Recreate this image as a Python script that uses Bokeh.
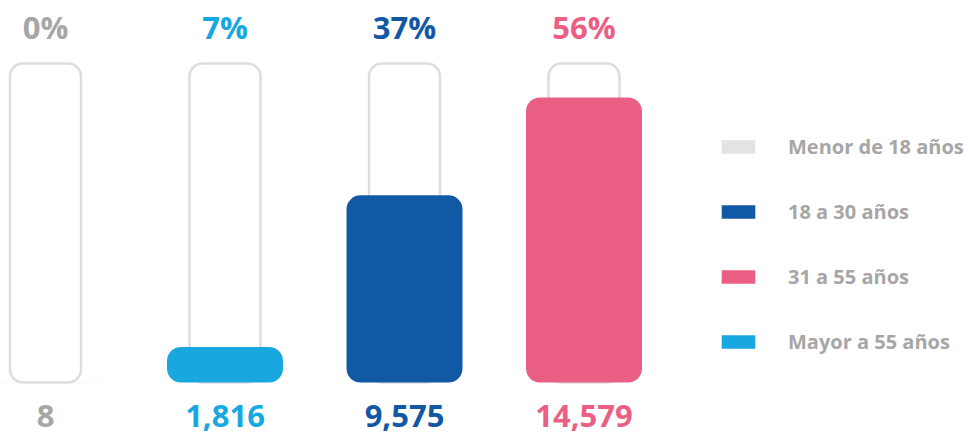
from bokeh.plotting import figure
from bokeh.models import Range1d, Legend, LegendItem, ColumnDataSource
from bokeh.core.properties import value
from bokeh.embed import file_html
from bokeh.resources import INLINE

# ---- data ----
groups = ["Menor de 18 años", "Mayor a 55 años", "18 a 30 años", "31 a 55 años"]
counts = [8, 1816, 9575, 14579]
bar_colors = ["#e3e3e3", "#18a8df", "#1259a5", "#ec5f85"]
text_colors = ["#a6a6a6", "#18a8df", "#1259a5", "#ec5f85"]
legend_order = ["Menor de 18 años", "18 a 30 años", "31 a 55 años", "Mayor a 55 años"]

total = sum(counts)
pct_labels = [f"{round(c * 100 / total)}%" for c in counts]
num_labels = [f"{c:,}" for c in counts]
xs = list(range(len(groups)))

FONT = "Open Sans"
W, H = 968, 436
PX_X = 179.5          # pixels per category
X0 = 45.0             # pixel position of first category
UNITS_PER_PX = 51.15  # y data units per pixel
Y0_PX = 382           # pixel (from top) of the baseline

TUBE_TOP = (Y0_PX - 63) * UNITS_PER_PX
PCT_Y = (Y0_PX - 26) * UNITS_PER_PX
NUM_Y = (Y0_PX - 415) * UNITS_PER_PX

p = figure(width=W, height=H, output_backend="svg", toolbar_location=None,
           x_range=Range1d(-X0 / PX_X, (W - X0) / PX_X),
           y_range=Range1d(-(H - Y0_PX) * UNITS_PER_PX, Y0_PX * UNITS_PER_PX),
           min_border=0)
p.axis.visible = False
p.grid.visible = False
p.outline_line_color = None
p.background_fill_color = "white"
p.border_fill_color = "white"

src = ColumnDataSource(dict(x=xs, count=counts, color=bar_colors, tcolor=text_colors,
                            pct=pct_labels, num=num_labels, group=groups,
                            tube=[TUBE_TOP] * len(xs)))

# tubes (outline)
p.vbar(x="x", top="tube", bottom=0, width=71 / PX_X, source=src,
       fill_color="white", line_color="#dddddd", line_width=2.5, border_radius=13)

# filled bars
bars = p.vbar(x="x", top="count", bottom=0, width=116 / PX_X, source=src,
              fill_color="color", line_color=None, border_radius=14)

# labels
p.text(x="x", y=PCT_Y, text="pct", source=src, text_color="tcolor",
       text_font=value(FONT), text_font_style="bold", text_font_size="31px",
       text_align="center", text_baseline="middle")
p.text(x="x", y=NUM_Y, text="num", source=src, text_color="tcolor",
       text_font=value(FONT), text_font_style="bold", text_font_size="31px",
       text_align="center", text_baseline="middle")

items = [LegendItem(label=g, renderers=[bars], index=groups.index(g)) for g in legend_order]
legend = Legend(items=items, location=(717, 81), orientation="vertical",
                glyph_width=42, glyph_height=17, label_height=17, spacing=38,
                label_standoff=29, padding=0, margin=0,
                border_line_alpha=0, background_fill_alpha=0,
                label_text_font=FONT, label_text_font_style="bold",
                label_text_font_size="20px", label_text_color="#a6a6a6",
                label_text_baseline="middle")
p.add_layout(legend, "center")

open("out.html", "w").write(file_html(p, INLINE))
